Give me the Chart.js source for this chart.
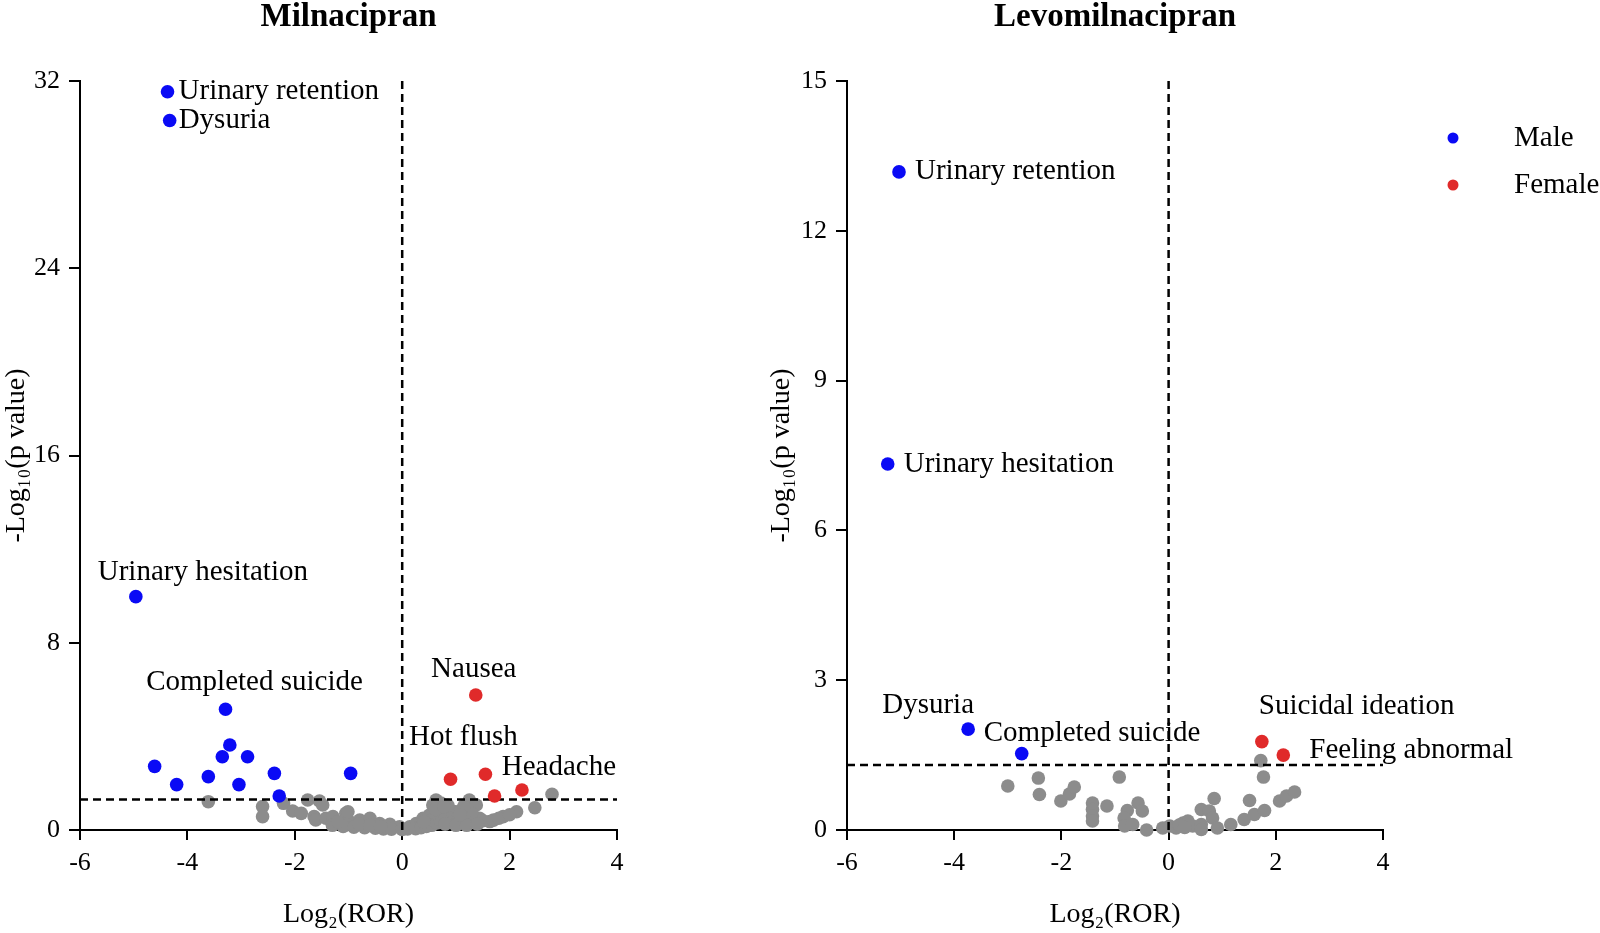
<!DOCTYPE html>
<html>
<head>
<meta charset="utf-8">
<script src="https://cdn.jsdelivr.net/npm/chart.js@4.4.1/dist/chart.umd.min.js"></script>
<style>
  html, body { margin: 0; padding: 0; background: #fff; }
  #wrap { position: relative; width: 1600px; height: 933px; }
  .box { position: absolute; top: 0; height: 933px; }
</style>
</head>
<body>
<div id="wrap">
  <div class="box" style="left:0;width:660px"><canvas id="milnacipran"></canvas></div>
  <div class="box" style="left:765px;width:835px"><canvas id="levomilnacipran"></canvas></div>
</div>
<script>
// Milnacipran: male-associated signals
const milMaleX = [-4.37, -4.33, -4.96, -3.29, -3.21, -3.35, -2.88, -3.61, -3.04, -2.38, -0.96, -2.29, -4.61, -4.20];
const milMaleY = [31.54, 30.31, 9.97, 5.16, 3.63, 3.13, 3.13, 2.28, 1.94, 2.42, 2.42, 1.45, 2.72, 1.94];
const milMaleNames = ["Urinary retention", "Dysuria", "Urinary hesitation", "Completed suicide", "", "", "", "", "", "", "", "", "", ""];

// Milnacipran: female-associated signals
const milFemaleX = [1.37, 0.90, 1.55, 1.72, 2.23];
const milFemaleY = [5.77, 2.17, 2.38, 1.45, 1.71];
const milFemaleNames = ["Nausea", "", "Hot flush", "", "Headache"];

// Milnacipran: not significant
const milOtherX = [-3.61, -2.60, -2.60, -2.21, -2.04, -1.88, -1.76, -1.54, -1.48, -1.64, -1.61, -1.42, -1.26, -1.05,
  -0.98, -0.79, -0.60, -0.42, -0.23, -0.05, 0.14, 0.26, 0.39, 0.51, 0.57, 0.63, 0.76, 0.88, 1.00, 1.13, 1.25, 1.38,
  1.44, 1.63, 1.88, 2.13, 2.47, 2.79, -1.29, -1.01, -1.30, -1.10, -0.90, -0.70, -0.50, -0.35, -0.20, 0.00, 0.10,
  0.25, 0.35, 0.45, 0.55, 0.65, 0.70, 0.60, 0.68, 0.72, 0.80, 0.90, 0.95, 1.05, 1.10, 1.20, 1.30, 1.35, 1.50, 1.70,
  1.80, 2.00, 0.80, 1.00, 1.20, 1.40, -0.80, -0.60, -1.20, -0.40, 0.40, 0.85, 1.15, 0.62, 0.78, 1.08];
const milOtherY = [1.21, 1.00, 0.57, 1.14, 0.81, 0.71, 1.28, 1.24, 1.07, 0.57, 0.43, 0.50, 0.36, 0.71,
  0.36, 0.43, 0.50, 0.28, 0.24, 0.14, 0.14, 0.28, 0.50, 0.64, 1.07, 1.28, 0.78, 0.50, 0.78, 0.92, 1.28, 1.07,
  0.50, 0.36, 0.57, 0.78, 0.95, 1.53, 0.57, 0.78, 0.20, 0.15, 0.12, 0.10, 0.08, 0.05, 0.03, 0.02, 0.04,
  0.06, 0.10, 0.15, 0.20, 0.30, 0.45, 0.75, 0.95, 1.15, 0.60, 0.85, 0.35, 0.55, 0.30, 0.45, 0.70, 0.35, 0.40, 0.42,
  0.50, 0.65, 0.25, 0.20, 0.20, 0.25, 0.25, 0.20, 0.35, 0.15, 0.35, 1.05, 1.02, 0.88, 1.00, 0.65];

// Levomilnacipran
const levoMaleX = [-5.03, -5.24, -3.74, -2.74];
const levoMaleY = [13.18, 7.33, 2.02, 1.53];
const levoMaleNames = ["Urinary retention", "Urinary hesitation", "Dysuria", "Completed suicide"];

const levoFemaleX = [1.74, 2.14];
const levoFemaleY = [1.77, 1.50];
const levoFemaleNames = ["Suicidal ideation", "Feeling abnormal"];

const levoOtherX = [-3.00, -2.43, -2.41, -2.01, -1.85, -1.76, -1.42, -1.42, -1.42, -1.42, -1.15, -0.92, -0.77, -0.83,
  -0.82, -0.57, -0.49, -0.67, -0.41, -0.11, 0.02, 0.14, 0.27, 0.36, 0.45, 0.61, 0.61, 0.61, 0.76, 0.82, 0.85, 0.91,
  1.16, 1.41, 1.60, 1.79, 1.51, 2.07, 2.20, 2.35, 1.72, 1.77, 0.20, 0.30];
const levoOtherY = [0.88, 1.04, 0.71, 0.58, 0.72, 0.86, 0.54, 0.41, 0.28, 0.18, 0.48, 1.06, 0.39, 0.24,
  0.08, 0.54, 0.38, 0.11, 0.00, 0.04, 0.08, 0.04, 0.14, 0.18, 0.08, 0.11, 0.01, 0.41, 0.38, 0.24, 0.63, 0.04,
  0.11, 0.21, 0.31, 0.39, 0.59, 0.58, 0.68, 0.76, 1.39, 1.06, 0.10, 0.05];

// -log10(0.05) and log2(ROR) = 0 cut-offs
const pCutoff = 1.3;
const rorCutoff = 0;

const FONT = "'Liberation Serif', 'Times New Roman', serif";
const BLUE = "#0a0af5";
const RED = "#e02a2a";
const GREY = "#8c8c8c";

function points(xs, ys) {
  return xs.map((x, i) => ({ x, y: ys[i] }));
}

// label placement next to its point (pixel offsets)
const milPlacement = {
  "Urinary retention": { dx: 11, dy: 0, align: "left" },
  "Dysuria": { dx: 9, dy: 0, align: "left" },
  "Urinary hesitation": { dx: 67, dy: -24, align: "center" },
  "Completed suicide": { dx: 29, dy: -27, align: "center" },
  "Nausea": { dx: -2, dy: -26, align: "center" },
  "Hot flush": { dx: -22, dy: -37, align: "center" },
  "Headache": { dx: 37, dy: -23, align: "center" },
};
const levoPlacement = {
  "Urinary retention": { dx: 16, dy: 0, align: "left" },
  "Urinary hesitation": { dx: 16, dy: 0, align: "left" },
  "Dysuria": { dx: -40, dy: -24, align: "center" },
  "Completed suicide": { dx: -38, dy: -20, align: "left" },
  "Suicidal ideation": { dx: -3, dy: -35, align: "left" },
  "Feeling abnormal": { dx: 26, dy: -5, align: "left" },
};

const annotate = {
  id: "annotate",
  afterDatasetsDraw(chart, args, opts) {
    const { ctx, chartArea } = chart;
    ctx.save();
    ctx.fillStyle = "#000";
    ctx.textBaseline = "middle";

    // panel title
    ctx.font = `bold 33px ${FONT}`;
    ctx.textAlign = "center";
    ctx.fillText(opts.title, (chartArea.left + chartArea.right) / 2, 17);

    // point labels
    ctx.font = `29px ${FONT}`;
    chart.data.datasets.forEach((ds, i) => {
      if (!ds.names) return;
      const meta = chart.getDatasetMeta(i);
      ds.names.forEach((name, j) => {
        const pos = opts.placement[name];
        if (!name || !pos) return;
        const pt = meta.data[j];
        ctx.textAlign = pos.align;
        ctx.fillText(name, pt.x + pos.dx, pt.y + pos.dy);
      });
    });

    // legend (right panel only)
    if (opts.legend) {
      [0, 1].forEach((i, k) => {
        const ds = chart.data.datasets[i];
        const y = 138 + k * 47;
        ctx.fillStyle = ds.backgroundColor;
        ctx.beginPath();
        ctx.arc(chartArea.right + 70, y, 5.5, 0, Math.PI * 2);
        ctx.fill();
        ctx.fillStyle = "#000";
        ctx.textAlign = "left";
        ctx.fillText(ds.label, chartArea.right + 131, y);
      });
    }
    ctx.restore();
  },
};

function buildDatasets(maleX, maleY, maleNames, femX, femY, femNames, othX, othY, yMax) {
  const pt = { pointRadius: 6.8, pointHoverRadius: 6.8, pointBorderWidth: 0, clip: false };
  const dash = { showLine: true, pointRadius: 0, borderColor: "#000", borderWidth: 2.5, borderDash: [8, 5] };
  return [
    { label: "Male", data: points(maleX, maleY), names: maleNames, backgroundColor: BLUE, ...pt },
    { label: "Female", data: points(femX, femY), names: femNames, backgroundColor: RED, ...pt },
    { label: "cutoff-p", data: [{ x: -6, y: pCutoff }, { x: 4, y: pCutoff }], ...dash },
    { label: "cutoff-ror", data: [{ x: rorCutoff, y: 0 }, { x: rorCutoff, y: yMax }], ...dash },
    { label: "Other", data: points(othX, othY), backgroundColor: GREY, ...pt },
  ];
}

function buildScales(yMax, yStep, yWidth, yTitlePad) {
  const tickFont = { family: FONT, size: 26 };
  const titleFont = { family: FONT, size: 28 };
  return {
    x: {
      type: "linear", min: -6, max: 4,
      ticks: { stepSize: 2, color: "#000", font: tickFont, padding: 8 },
      grid: { drawOnChartArea: false, color: "#000", lineWidth: 2, tickLength: 10 },
      border: { color: "#000", width: 2 },
      title: { display: true, text: "Log₂(ROR)", color: "#000", font: titleFont, padding: { top: 4, bottom: 2 } },
      afterFit(scale) { scale.height = 103; },
    },
    y: {
      type: "linear", min: 0, max: yMax,
      ticks: { stepSize: yStep, color: "#000", font: tickFont, padding: 9 },
      grid: { drawOnChartArea: false, color: "#000", lineWidth: 2, tickLength: 11 },
      border: { color: "#000", width: 2 },
      title: { display: true, text: "-Log₁₀(p value)", color: "#000", font: titleFont, padding: { top: yTitlePad, bottom: 0 } },
      afterFit(scale) { scale.width = yWidth; },
    },
  };
}

function makeChart(id, datasets, scales, padRight, annot) {
  return new Chart(document.getElementById(id), {
    type: "scatter",
    data: { datasets },
    options: {
      responsive: true,
      maintainAspectRatio: false,
      animation: false,
      layout: { padding: { top: 81, right: padRight, left: 0, bottom: 0 } },
      scales,
      plugins: { legend: { display: false }, tooltip: { enabled: false }, annotate: annot },
    },
    plugins: [annotate],
  });
}

makeChart("milnacipran",
  buildDatasets(milMaleX, milMaleY, milMaleNames, milFemaleX, milFemaleY, milFemaleNames, milOtherX, milOtherY, 32),
  buildScales(32, 8, 80, 0), 43,
  { title: "Milnacipran", placement: milPlacement, legend: false });

makeChart("levomilnacipran",
  buildDatasets(levoMaleX, levoMaleY, levoMaleNames, levoFemaleX, levoFemaleY, levoFemaleNames, levoOtherX, levoOtherY, 15),
  buildScales(15, 3, 82, 0), 217,
  { title: "Levomilnacipran", placement: levoPlacement, legend: true });
</script>
</body>
</html>
